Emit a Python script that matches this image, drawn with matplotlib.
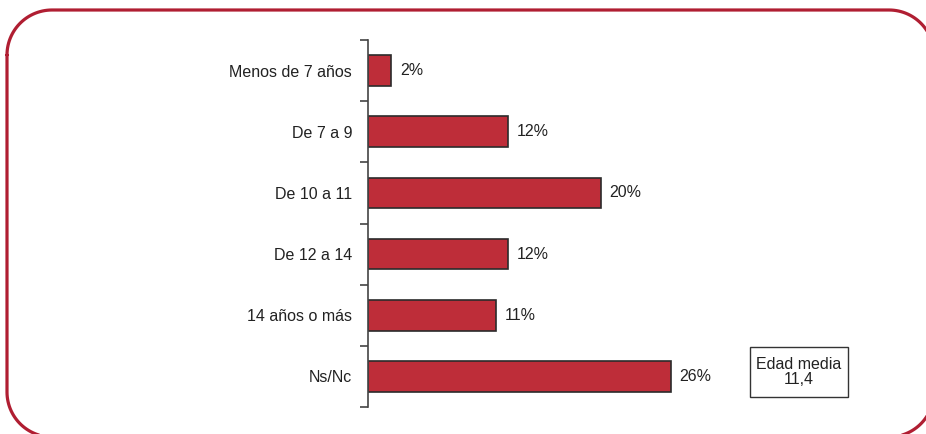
import numpy as np
import matplotlib.pyplot as plt
from matplotlib.patches import Rectangle

plt.rcParams['font.family'] = ['Liberation Sans', 'DejaVu Sans']

categorias = ['Menos de 7 años', 'De 7 a 9', 'De 10 a 11', 'De 12 a 14', '14 años o más', 'Ns/Nc']
valores = [2, 12, 20, 12, 11, 26]
etiquetas = ['2%', '12%', '20%', '12%', '11%', '26%']
nota = 'Edad media\n11,4'

W, H = 926, 434
fig = plt.figure(figsize=(W / 100, H / 100), dpi=100)

# capa de fondo en pixeles para el marco y el recuadro
fondo = fig.add_axes([0, 0, 1, 1])
fondo.set_xlim(0, W)
fondo.set_ylim(H, 0)
fondo.axis('off')


def rect_redondeado(xa, ya, xb, yb, r, n=30):
    # esquinas: sup-izq, sup-der, inf-der, inf-izq (y crece hacia abajo)
    esquinas = [(xa + r, ya + r, np.pi, 1.5 * np.pi),
                (xb - r, ya + r, 1.5 * np.pi, 2 * np.pi),
                (xb - r, yb - r, 0, 0.5 * np.pi),
                (xa + r, yb - r, 0.5 * np.pi, np.pi)]
    xs, ys = [], []
    for cx, cy, t0, t1 in esquinas:
        t = np.linspace(t0, t1, n)
        xs.extend(cx + r * np.cos(t))
        ys.extend(cy + r * np.sin(t))
    xs.append(xs[0])
    ys.append(ys[0])
    return xs, ys


mx, my = rect_redondeado(7, 10, 934, 437, 45)
fondo.plot(mx, my, color='#B01E32', linewidth=2.3, clip_on=False, solid_capstyle='round')

# recuadro con la edad media
bx0, bx1, by0, by1 = 750, 848, 347, 397
fondo.add_patch(Rectangle((bx0, by0), bx1 - bx0, by1 - by0, fill=False,
                          edgecolor='#333333', linewidth=1.0))
fondo.text((bx0 + bx1) / 2, (by0 + by1) / 2, nota, ha='center', va='center',
           fontsize=11.5, color='#222222', linespacing=0.95)

# ejes: x=368..900 px, y=40..407 px
x0, x1, y0, y1 = 368, 900, 40, 407
ax = fig.add_axes([x0 / W, 1 - y1 / H, (x1 - x0) / W, (y1 - y0) / H])
ax.patch.set_visible(False)
escala = 11.65  # px por punto porcentual
ax.set_xlim(0, (x1 - x0) / escala)
ax.set_ylim(5.5, -0.5)

pos = list(range(len(categorias)))
ax.barh(pos, valores, height=0.5, color='#BE2D39', edgecolor='#2b2b2b', linewidth=1.2)
for p, v, t in zip(pos, valores, etiquetas):
    ax.text(v + 0.75, p, t, va='center', ha='left', fontsize=11.5, color='#222222')

for s in ['top', 'right', 'bottom']:
    ax.spines[s].set_visible(False)
ax.spines['left'].set_color('#444444')
ax.spines['left'].set_linewidth(1.2)
ax.set_xticks([])
ax.set_yticks([p - 0.5 for p in pos] + [5.5])
ax.set_yticklabels([])
ax.tick_params(axis='y', which='major', length=6, width=1.2, color='#444444')
ax.set_yticks(pos, minor=True)
ax.set_yticklabels(categorias, minor=True)
ax.tick_params(axis='y', which='minor', length=0, pad=11.5, labelsize=11.5, labelcolor='#222222')

fig.savefig('out.png', dpi=100)
